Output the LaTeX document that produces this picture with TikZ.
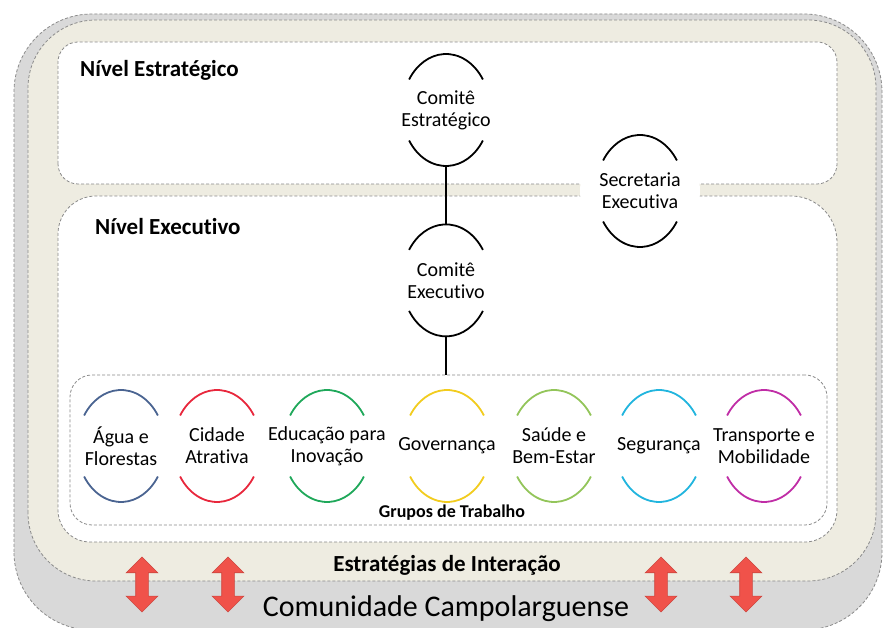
\documentclass[tikz,border=0pt]{standalone}
\usepackage{fontspec}
\setmainfont{Carlito}[Ligatures=NoCommon]
\usepackage{tikz}
\usetikzlibrary{shapes.geometric, shapes.arrows, positioning}

\definecolor{fundocinza}{HTML}{D9D9D9}
\definecolor{fundobege}{HTML}{EEECE1}
\definecolor{tracejado}{HTML}{8A8A8A}
\definecolor{cagua}{HTML}{4A6491}
\definecolor{ccidade}{HTML}{E8273C}
\definecolor{ceducacao}{HTML}{1FA85A}
\definecolor{cgovernanca}{HTML}{F2CC1E}
\definecolor{csaude}{HTML}{93C55A}
\definecolor{cseguranca}{HTML}{21B5DE}
\definecolor{ctransporte}{HTML}{C02DA6}
\definecolor{setavermelha}{HTML}{F0524A}

\begin{document}
\begin{tikzpicture}[
          x=1pt, y=1pt,
          faixa/.style = {draw=tracejado, line width=0.8pt, dash pattern=on 3pt off 2pt},
          titulo/.style = {anchor=base west, inner sep=0, font=\fontsize{23}{27}\selectfont\bfseries},
          orgao/.style = {ellipse, minimum width=88pt, minimum height=112pt, inner sep=0, align=center, font=\fontsize{20}{22}\selectfont},
          anel/.style = {line width=1.8pt},
          ligacao/.style = {line width=1.8pt},
          setadupla/.style = {double arrow, shape border rotate=90, fill=setavermelha, draw=setavermelha!85!black, line width=0.6pt, inner sep=6pt, minimum width=31pt, minimum height=55pt, double arrow head extend=9.5pt, double arrow head indent=0pt}
         ]

        \useasboundingbox (0,0) rectangle (884,628);
        \fill[white] (0,0) rectangle (884,628);

        % Comunidade (fundo cinza)
        \filldraw[faixa, fill=fundocinza, rounded corners=78pt] (14,-2) rectangle (882,614);

        % Estrategias de Interacao (fundo bege)
        \filldraw[faixa, fill=fundobege, rounded corners=68pt] (28,47) rectangle (876,608);

        % Nivel Estrategico
        \filldraw[faixa, fill=white, rounded corners=20pt] (58,444) rectangle (837,586);

        % Nivel Executivo
        \filldraw[faixa, fill=white] (58,300) [rounded corners=38pt] -- (58,432) -- (450,432)
          [rounded corners=46pt] -- (837,432) -- (837,300) [rounded corners=32pt] -- (837,86) -- (450,86) -- (58,86) -- cycle;

        % Grupos de Trabalho
        \node[faixa, fill=white, rounded corners=22pt, minimum width=757pt, minimum height=150pt] (grupos) at (448.5,178) {};

        \node[titulo] (nivelestr) at (80,551) {Nível Estratégico};
        \node[titulo] (nivelexec) at (95,393) {Nível Executivo};

        % Comites e Secretaria
        \node[orgao] (cestr) at (446,518) {Comitê\\Estratégico};
        \node[orgao, below=58pt of cestr] (cexec) {Comitê\\Executivo};
        \node[orgao, fill=white, minimum width=120pt] (secret) at (640,437) {Secretaria\\Executiva};

        % Grupos
        \foreach \nome/\px/\texto in {agua/121/{Água e\\Florestas}, cidade/217/{Cidade\\Atrativa},
            educacao/327/{Educação para\\Inovação}, governanca/447/{Governança},
            saude/554/{Saúde e\\Bem-Estar}, seguranca/659/{Segurança},
            transporte/764/{Transporte e\\Mobilidade}}
          \node[orgao] (\nome) at (\px,182) {\texto};

        % Aneis (arcos acima e abaixo)
        \foreach \nome/\cor in {cestr/black, cexec/black, secret/black, agua/cagua, cidade/ccidade,
            educacao/ceducacao, governanca/cgovernanca, saude/csaude, seguranca/cseguranca, transporte/ctransporte} {
          \draw[anel, \cor] (\nome.center) ++(33:44pt and 56pt) arc[start angle=33, end angle=147, x radius=44pt, y radius=56pt];
          \draw[anel, \cor] (\nome.center) ++(213:44pt and 56pt) arc[start angle=213, end angle=327, x radius=44pt, y radius=56pt];
        }

        % Ligacoes
        \draw[ligacao] (cestr) -- (cexec);
        \draw[ligacao] (cexec) -- (cexec.south |- grupos.north);

        \node[anchor=base, font=\fontsize{18}{21}\selectfont\bfseries] (rotgrupos) at (452,110) {Grupos de Trabalho};
        \node[anchor=base, font=\fontsize{23}{27}\selectfont\bfseries] (interacao) at (447,56) {Estratégias de Interação};
        \node[anchor=base, font=\fontsize{30}{34}\selectfont] (comunidade) at (446,11) {Comunidade Campolarguense};

        % Setas de interacao
        \node[setadupla] (seta1) at (142,43.5) {};
        \node[setadupla] (seta2) at (228,43.5) {};
        \node[setadupla] (seta3) at (661,43.5) {};
        \node[setadupla] (seta4) at (746,43.5) {};

        \end{tikzpicture}
\end{document}
